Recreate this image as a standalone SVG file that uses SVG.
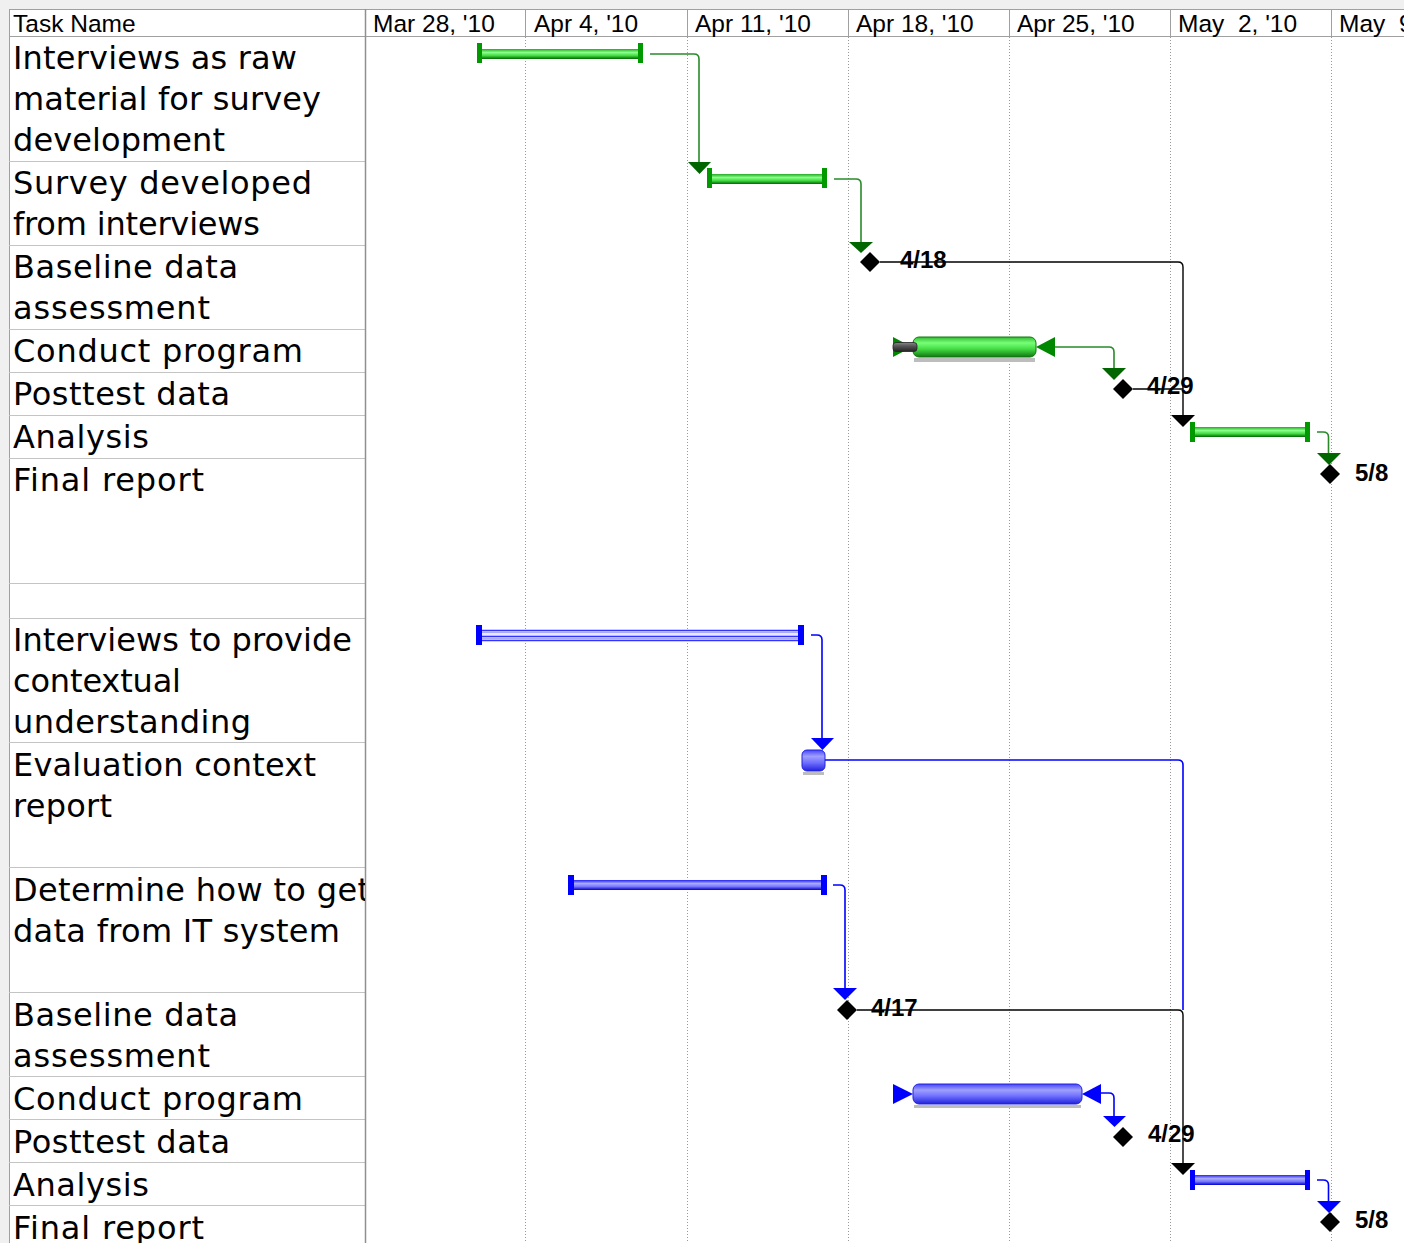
<svg xmlns="http://www.w3.org/2000/svg" width="1404" height="1243" viewBox="0 0 1404 1243">
  <defs>
    <linearGradient id="gTube" x1="0" y1="0" x2="0" y2="1">
      <stop offset="0" stop-color="#22aa22"/>
      <stop offset="0.35" stop-color="#88ff88"/>
      <stop offset="0.65" stop-color="#44dd44"/>
      <stop offset="1" stop-color="#006600"/>
    </linearGradient>
    <linearGradient id="gBar" x1="0" y1="0" x2="0" y2="1">
      <stop offset="0" stop-color="#33bb33"/>
      <stop offset="0.3" stop-color="#77ff77"/>
      <stop offset="0.6" stop-color="#44dd44"/>
      <stop offset="1" stop-color="#117711"/>
    </linearGradient>
    <linearGradient id="bTube" x1="0" y1="0" x2="0" y2="1">
      <stop offset="0" stop-color="#2222ff"/>
      <stop offset="0.35" stop-color="#aaaaff"/>
      <stop offset="0.65" stop-color="#7777ff"/>
      <stop offset="1" stop-color="#0000cc"/>
    </linearGradient>
    <linearGradient id="bBar" x1="0" y1="0" x2="0" y2="1">
      <stop offset="0" stop-color="#4444ff"/>
      <stop offset="0.3" stop-color="#a0a0ff"/>
      <stop offset="0.6" stop-color="#7070ff"/>
      <stop offset="1" stop-color="#2222dd"/>
    </linearGradient>
    <linearGradient id="grayBar" x1="0" y1="0" x2="0" y2="1">
      <stop offset="0" stop-color="#888"/>
      <stop offset="0.4" stop-color="#555"/>
      <stop offset="1" stop-color="#222"/>
    </linearGradient>
    <clipPath id="nameCol">
      <rect x="9" y="37" width="356" height="1206"/>
    </clipPath>
    <clipPath id="chartArea">
      <rect x="366" y="9" width="1038" height="1234"/>
    </clipPath>
  </defs>
  <style>
    .hdr { font-family: "Liberation Sans", Arial, sans-serif; font-size: 24.5px; fill: #000; white-space: pre; }
    .name { font-family: "DejaVu Sans", Verdana, sans-serif; font-size: 32px; fill: #000; }
    .date { font-family: "Liberation Sans", Arial, sans-serif; font-size: 24px; font-weight: bold; fill: #000; }
    .rowline { stroke: #c4c4c4; stroke-width: 1; }
    .week { stroke: #999; stroke-width: 1; stroke-dasharray: 1 2; }
    .gcap { fill: #009900; }
    .bcap { fill: #0000ff; }
    .glink { fill: none; stroke: #2a8a2a; stroke-width: 1.6; }
    .blink { fill: none; stroke: #0000ff; stroke-width: 1.6; }
    .klink { fill: none; stroke: #000; stroke-width: 1.4; }
    .garr { fill: #006600; }
    .barr { fill: #0000ff; }
    .karr { fill: #000; }
    .ms { fill: #000; }
    .shadow { fill: #bdbdbd; }
  </style>

  <!-- window frame -->
  <rect x="0" y="0" width="1404" height="1243" fill="#f0f0f0"/>
  <rect x="9" y="9" width="1395" height="1234" fill="#fff"/>

  <!-- header row -->
  <g id="header">
    <line x1="9" y1="9.5" x2="1404" y2="9.5" stroke="#a0a0a0"/>
    <line x1="9" y1="36.5" x2="1404" y2="36.5" stroke="#a0a0a0"/>
    <line x1="9.5" y1="9" x2="9.5" y2="1243" stroke="#a0a0a0"/>
    <line x1="525.5" y1="9" x2="525.5" y2="36" stroke="#a0a0a0"/>
    <line x1="687.5" y1="9" x2="687.5" y2="36" stroke="#a0a0a0"/>
    <line x1="848.5" y1="9" x2="848.5" y2="36" stroke="#a0a0a0"/>
    <line x1="1009.5" y1="9" x2="1009.5" y2="36" stroke="#a0a0a0"/>
    <line x1="1170.5" y1="9" x2="1170.5" y2="36" stroke="#a0a0a0"/>
    <line x1="1331.5" y1="9" x2="1331.5" y2="36" stroke="#a0a0a0"/>
    <text class="hdr" x="13" y="32">Task Name</text>
    <text class="hdr" x="373" y="32">Mar 28, '10</text>
    <text class="hdr" x="534" y="32">Apr 4, '10</text>
    <text class="hdr" x="695" y="32">Apr 11, '10</text>
    <text class="hdr" x="856" y="32">Apr 18, '10</text>
    <text class="hdr" x="1017" y="32">Apr 25, '10</text>
    <text class="hdr" x="1178" y="32">May  2, '10</text>
    <text class="hdr" x="1339" y="32">May  9, '10</text>
  </g>

  <!-- weekly gridlines -->
  <g id="grid">
    <line class="week" x1="525.5" y1="37" x2="525.5" y2="1243"/>
    <line class="week" x1="687.5" y1="37" x2="687.5" y2="1243"/>
    <line class="week" x1="848.5" y1="37" x2="848.5" y2="1243"/>
    <line class="week" x1="1009.5" y1="37" x2="1009.5" y2="1243"/>
    <line class="week" x1="1170.5" y1="37" x2="1170.5" y2="1243"/>
    <line class="week" x1="1331.5" y1="37" x2="1331.5" y2="1243"/>
    <line class="rowline" x1="9" y1="161.5" x2="365" y2="161.5"/>
    <line class="rowline" x1="9" y1="245.5" x2="365" y2="245.5"/>
    <line class="rowline" x1="9" y1="329.5" x2="365" y2="329.5"/>
    <line class="rowline" x1="9" y1="372.5" x2="365" y2="372.5"/>
    <line class="rowline" x1="9" y1="415.5" x2="365" y2="415.5"/>
    <line class="rowline" x1="9" y1="458.5" x2="365" y2="458.5"/>
    <line class="rowline" x1="9" y1="583.5" x2="365" y2="583.5"/>
    <line class="rowline" x1="9" y1="618.5" x2="365" y2="618.5"/>
    <line class="rowline" x1="9" y1="742.5" x2="365" y2="742.5"/>
    <line class="rowline" x1="9" y1="867.5" x2="365" y2="867.5"/>
    <line class="rowline" x1="9" y1="992.5" x2="365" y2="992.5"/>
    <line class="rowline" x1="9" y1="1076.5" x2="365" y2="1076.5"/>
    <line class="rowline" x1="9" y1="1119.5" x2="365" y2="1119.5"/>
    <line class="rowline" x1="9" y1="1162.5" x2="365" y2="1162.5"/>
    <line class="rowline" x1="9" y1="1205.5" x2="365" y2="1205.5"/>
    <line x1="365.5" y1="9" x2="365.5" y2="1243" stroke="#909090" stroke-width="1.5"/>
  </g>

  <!-- task names -->
  <g id="task-names" clip-path="url(#nameCol)">
    <text class="name" x="13" y="69" textLength="284" lengthAdjust="spacing">Interviews as raw</text>
    <text class="name" x="13" y="110" textLength="308" lengthAdjust="spacing">material for survey</text>
    <text class="name" x="13" y="151" textLength="212" lengthAdjust="spacing">development</text>
    <text class="name" x="13" y="194" textLength="299" lengthAdjust="spacing">Survey developed</text>
    <text class="name" x="13" y="235" textLength="247" lengthAdjust="spacing">from interviews</text>
    <text class="name" x="13" y="278" textLength="225" lengthAdjust="spacing">Baseline data</text>
    <text class="name" x="13" y="319" textLength="197" lengthAdjust="spacing">assessment</text>
    <text class="name" x="13" y="362" textLength="290" lengthAdjust="spacing">Conduct program</text>
    <text class="name" x="13" y="405" textLength="217" lengthAdjust="spacing">Posttest data</text>
    <text class="name" x="13" y="448" textLength="136" lengthAdjust="spacing">Analysis</text>
    <text class="name" x="13" y="491" textLength="191" lengthAdjust="spacing">Final report</text>
    <text class="name" x="13" y="651" textLength="339" lengthAdjust="spacing">Interviews to provide</text>
    <text class="name" x="13" y="692" textLength="168" lengthAdjust="spacing">contextual</text>
    <text class="name" x="13" y="733" textLength="238" lengthAdjust="spacing">understanding</text>
    <text class="name" x="13" y="776" textLength="303" lengthAdjust="spacing">Evaluation context</text>
    <text class="name" x="13" y="817" textLength="99" lengthAdjust="spacing">report</text>
    <text class="name" x="13" y="901" textLength="357" lengthAdjust="spacing">Determine how to get</text>
    <text class="name" x="13" y="942" textLength="327" lengthAdjust="spacing">data from IT system</text>
    <text class="name" x="13" y="1026" textLength="225" lengthAdjust="spacing">Baseline data</text>
    <text class="name" x="13" y="1067" textLength="197" lengthAdjust="spacing">assessment</text>
    <text class="name" x="13" y="1110" textLength="290" lengthAdjust="spacing">Conduct program</text>
    <text class="name" x="13" y="1153" textLength="217" lengthAdjust="spacing">Posttest data</text>
    <text class="name" x="13" y="1196" textLength="136" lengthAdjust="spacing">Analysis</text>
    <text class="name" x="13" y="1239" textLength="191" lengthAdjust="spacing">Final report</text>
  </g>

  <!-- dependency connectors -->
  <g id="connectors" clip-path="url(#chartArea)">
    <path class="glink" d="M650,54 H694 Q699,54 699,59 V163"/>
    <polygon class="garr" points="688,162 711,162 699.5,174"/>
    <path class="glink" d="M834,179 H856 Q861,179 861,184 V243"/>
    <polygon class="garr" points="849,242 873,242 861,253"/>
    <path class="klink" d="M880,262 H1178 Q1183,262 1183,267 V416"/>
    <polygon class="karr" points="1171,415 1195,415 1183,427"/>
    <path class="glink" d="M1055,347 H1109 Q1114,347 1114,352 V369"/>
    <polygon class="garr" points="1102,368 1126,368 1114,380"/>
    <path class="klink" d="M1133,389 H1183"/>
    <path class="glink" d="M1317,432 H1323 Q1328.5,432 1328.5,437 V454"/>
    <polygon class="garr" points="1317,453 1341,453 1329,465"/>

    <path class="blink" d="M811,635 H817 Q822,635 822,640 V739"/>
    <polygon class="barr" points="811,738 834,738 822.5,750"/>
    <path class="blink" d="M825,760 H1178 Q1183,760 1183,765 V1010"/>
    <path class="blink" d="M833,885 H840 Q845,885 845,890 V989"/>
    <polygon class="barr" points="833,988 857,988 845,1000"/>
    <path class="klink" d="M857,1010 H1178 Q1183,1010 1183,1015 V1164"/>
    <polygon class="karr" points="1171,1163 1195,1163 1183,1175"/>
    <path class="blink" d="M1101,1093 H1109 Q1114,1093 1114,1098 V1117"/>
    <polygon class="barr" points="1103,1116 1126,1116 1114.5,1127"/>
    <path class="blink" d="M1317,1180 H1323 Q1328.5,1180 1328.5,1185 V1202"/>
    <polygon class="barr" points="1317,1201 1341,1201 1329,1213"/>
  </g>

  <!-- green track -->
  <g id="task-interviews-raw">
    <rect x="480" y="49" width="161" height="10" fill="url(#gTube)"/>
    <rect class="gcap" x="477" y="43" width="5" height="20"/>
    <rect class="gcap" x="638" y="43" width="5" height="20"/>
  </g>
  <g id="task-survey">
    <rect x="710" y="174" width="115" height="10" fill="url(#gTube)"/>
    <rect class="gcap" x="707" y="168" width="5" height="20"/>
    <rect class="gcap" x="822" y="168" width="5" height="20"/>
  </g>
  <g id="ms-baseline-1">
    <polygon class="ms" points="870,252 880,262 870,272 860,262"/>
    <text class="date" x="900" y="268">4/18</text>
  </g>
  <g id="task-conduct-1">
    <rect class="shadow" x="914" y="358" width="121" height="4"/>
    <polygon fill="#008800" points="893,337 912,347 893,357"/>
    <rect x="913" y="337" width="123" height="20" rx="6" fill="url(#gBar)" stroke="#117711" stroke-width="1"/>
    <rect x="893" y="342.5" width="24" height="9" rx="3" fill="url(#grayBar)" stroke="#222" stroke-width="0.8"/>
    <polygon fill="#008800" points="1055,337 1036,347 1055,357"/>
  </g>
  <g id="ms-posttest-1">
    <polygon class="ms" points="1123,379 1133,389 1123,399 1113,389"/>
    <text class="date" x="1147" y="394">4/29</text>
  </g>
  <g id="task-analysis-1">
    <rect x="1193" y="427" width="115" height="10" fill="url(#gTube)"/>
    <rect class="gcap" x="1190" y="422" width="5" height="20"/>
    <rect class="gcap" x="1305" y="422" width="5" height="20"/>
  </g>
  <g id="ms-final-1">
    <polygon class="ms" points="1330,464 1340,474 1330,484 1320,474"/>
    <text class="date" x="1355" y="481">5/8</text>
  </g>

  <!-- blue track -->
  <g id="task-interviews-context">
    <rect x="481" y="630" width="318" height="11" fill="#e6e6ff"/>
    <line x1="481" y1="630.5" x2="799" y2="630.5" stroke="#3333ff" stroke-width="1.5"/>
    <line x1="481" y1="632.5" x2="799" y2="632.5" stroke="#aaaaff" stroke-width="1"/>
    <line x1="481" y1="636.5" x2="799" y2="636.5" stroke="#3333ff" stroke-width="1.5"/>
    <line x1="481" y1="638.5" x2="799" y2="638.5" stroke="#aaaaff" stroke-width="1"/>
    <line x1="481" y1="640.5" x2="799" y2="640.5" stroke="#3333ff" stroke-width="1.5"/>
    <rect class="bcap" x="476" y="625" width="6" height="20"/>
    <rect class="bcap" x="798" y="625" width="6" height="20"/>
  </g>
  <g id="task-context-report">
    <rect class="shadow" x="803" y="772" width="21" height="3"/>
    <rect x="802" y="750" width="23" height="21" rx="5" fill="url(#bBar)" stroke="#2222dd" stroke-width="1"/>
  </g>
  <g id="task-it-system">
    <rect x="571" y="880" width="253" height="10" fill="url(#bTube)"/>
    <rect class="bcap" x="568" y="875" width="6" height="20"/>
    <rect class="bcap" x="821" y="875" width="6" height="20"/>
  </g>
  <g id="ms-baseline-2">
    <polygon class="ms" points="847,1000 857,1010 847,1020 837,1010"/>
    <text class="date" x="871" y="1016">4/17</text>
  </g>
  <g id="task-conduct-2">
    <rect class="shadow" x="914" y="1105" width="167" height="3"/>
    <polygon fill="#0000ff" points="893,1084 913,1094 893,1104"/>
    <rect x="913" y="1084" width="169" height="20" rx="6" fill="url(#bBar)" stroke="#2222dd" stroke-width="1"/>
    <polygon fill="#0000ff" points="1101,1084 1082,1094 1101,1104"/>
  </g>
  <g id="ms-posttest-2">
    <polygon class="ms" points="1123,1127 1133,1137 1123,1147 1113,1137"/>
    <text class="date" x="1148" y="1142">4/29</text>
  </g>
  <g id="task-analysis-2">
    <rect x="1193" y="1175" width="115" height="10" fill="url(#bTube)"/>
    <rect class="bcap" x="1190" y="1170" width="5" height="20"/>
    <rect class="bcap" x="1305" y="1170" width="5" height="20"/>
  </g>
  <g id="ms-final-2">
    <polygon class="ms" points="1330,1212 1340,1222 1330,1232 1320,1222"/>
    <text class="date" x="1355" y="1228">5/8</text>
  </g>
</svg>
